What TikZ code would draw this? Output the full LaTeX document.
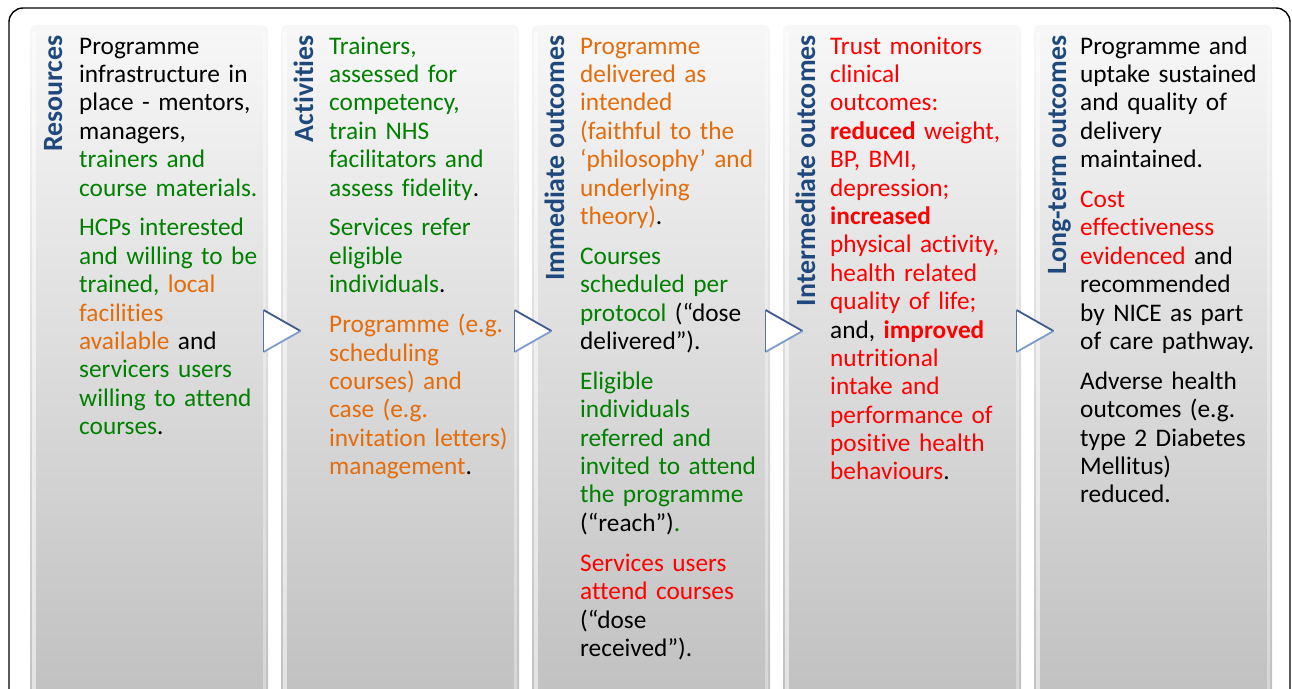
\documentclass[tikz,border=0pt]{standalone}
\usepackage{fontspec}
\setmainfont{Carlito}[Ligatures=NoCommon]
\definecolor{tgreen}{RGB}{0,128,0}
\definecolor{torange}{RGB}{228,108,10}
\definecolor{tred}{RGB}{255,0,0}
\definecolor{tblue}{RGB}{31,73,125}
\definecolor{trdark}{RGB}{62,90,140}
\definecolor{trlight}{RGB}{125,155,205}
\newcommand{\myg}[1]{\textcolor{tgreen}{#1}}
\newcommand{\myo}[1]{\textcolor{torange}{#1}}
\newcommand{\myr}[1]{\textcolor{tred}{#1}}
\newcommand{\pgap}{\\[11.5bp]}
\begin{document}
\begin{tikzpicture}[x=1bp,y=-1bp,
  colbox/.style={top color=black!3, bottom color=black!26, rounded corners=6bp},
  txt/.style={anchor=north west, inner sep=0pt, text width=205bp, align=left,
    font=\fontsize{25.4}{28.5}\selectfont},
  ttl/.style={anchor=base east, rotate=90, inner sep=0pt, text=tblue,
    font=\fontsize{28}{30}\selectfont\bfseries},
  tri/.style={fill=white, line width=1.8bp, line join=miter}]
\useasboundingbox (0,0) rectangle (1292,689);
\clip (0,0) rectangle (1292,689);
\draw[line width=1.4bp, rounded corners=14bp] (9,8) rectangle (1290,760);
\foreach \i in {0,...,4}{
  \pgfmathsetmacro{\cx}{30+251*\i}
  \path[colbox] (\cx,25) rectangle ++(238,720);
  \fill[white, opacity=0.55] (\cx+1.5,32) rectangle ++(4.5,700);
  \fill[white, opacity=0.35] (\cx+233,32) rectangle ++(3,700);
}
\node[ttl] (t1) at (62,35) {Resources};
\node[ttl] (t2) at (313,35) {Activities};
\node[ttl] (t3) at (564,35) {Immediate outcomes};
\node[ttl] (t4) at (815,35) {Intermediate outcomes};
\node[ttl] (t5) at (1066,35) {Long-term outcomes};

\node[txt] (b1) at (79,34) {\strut Programme\\ infrastructure in\\ place - mentors,\\ managers,\\ \myg{trainers and}\\ \myg{course materials.}\pgap
\myg{HCPs interested}\\ \myg{and willing to be}\\ \myg{trained,} \myo{local}\\ \myo{facilities}\\ \myo{available} and\\ \myg{servicers users}\\ \myg{willing to attend}\\ \myg{courses}.};

\node[txt] (b2) at (329,34) {\strut\myg{Trainers,}\\ \myg{assessed for}\\ \myg{competency,}\\ \myg{train NHS}\\ \myg{facilitators and}\\ \myg{assess fidelity}.\pgap
\myg{Services refer}\\ \myg{eligible}\\ \myg{individuals}.\pgap
\myo{Programme (e.g.}\\ \myo{scheduling}\\ \myo{courses) and}\\ \myo{case (e.g.}\\ \myo{invitation letters)}\\ \myo{management}.};

\node[txt] (b3) at (580,34) {\strut\myo{Programme}\\ \myo{delivered as}\\ \myo{intended}\\ \myo{(faithful to the}\\ \myo{‘philosophy’ and}\\ \myo{underlying}\\ \myo{theory)}.\pgap
\myg{Courses}\\ \myg{scheduled per}\\ \myg{protocol} (“dose\\ delivered”).\pgap
\myg{Eligible}\\ \myg{individuals}\\ \myg{referred and}\\ \myg{invited to attend}\\ \myg{the programme}\\ (“reach”)\myg{.}\pgap
\myr{Services users}\\ \myr{attend courses}\\ (“dose\\ received”).};

\node[txt] (b4) at (830,34) {\strut\myr{Trust monitors}\\ \myr{clinical}\\ \myr{outcomes:}\\ \myr{\textbf{reduced} weight,}\\ \myr{BP, BMI,}\\ \myr{depression;}\\ \myr{\textbf{increased}}\\ \myr{physical activity,}\\ \myr{health related}\\ \myr{quality of life;}\\ and, \myr{\textbf{improved}}\\ \myr{nutritional}\\ \myr{intake and}\\ \myr{performance of}\\ \myr{positive health}\\ \myr{behaviours}.};

\node[txt] (b5) at (1080,34) {\strut Programme and\\ uptake sustained\\ and quality of\\ delivery\\ maintained.\pgap
\myr{Cost}\\ \myr{effectiveness}\\ \myr{evidenced} and\\ recommended\\ by NICE as part\\ of care pathway.\pgap
Adverse health\\ outcomes (e.g.\\ type 2 Diabetes\\ Mellitus)\\ reduced.};

\foreach \i in {0,...,3}{
  \pgfmathsetmacro{\tx}{263.5+251*\i}
  \fill[white] (\tx,310) -- (\tx+37,331) -- (\tx,352) -- cycle;
  \draw[line width=1.8bp, trdark] (\tx,310) -- (\tx+37,331);
  \draw[line width=1.8bp, trlight] (\tx+37,331) -- (\tx,352);
  \draw[line width=1.8bp, draw=trdark!60!trlight] (\tx,310) -- (\tx,352);
}
\end{tikzpicture}
\end{document}
